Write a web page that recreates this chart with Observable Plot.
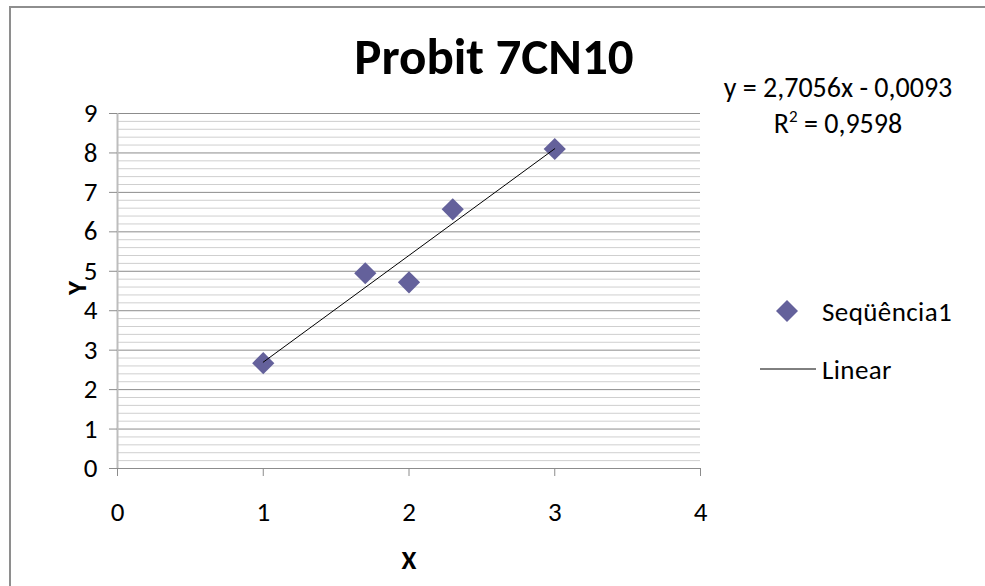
<!DOCTYPE html>
<html>
<head>
<meta charset="utf-8">
<script src="https://cdn.jsdelivr.net/npm/d3@7"></script>
<script src="https://cdn.jsdelivr.net/npm/@observablehq/plot@0.6"></script>
<style>
  html, body { margin: 0; padding: 0; background: #fff; overflow: hidden; }
  #chart { position: relative; width: 985px; height: 586px; overflow: hidden; font-family: Carlito, Lato, "Open Sans", sans-serif; color: #000; }
  #frame { position: absolute; left: 0; top: 0; width: 985px; height: 586px; }
  #plot { position: absolute; left: 0; top: 0; }
  .title { position: absolute; left: 494px; top: 56px; transform: translate(-50%, -50%); font-size: 51px; font-weight: bold; white-space: nowrap; }
  .eq { position: absolute; font-size: 28px; white-space: nowrap; transform: translate(-50%, -50%); }
  .eq sup { font-size: 17px; vertical-align: 11px; line-height: 0; }
  .legend { position: absolute; left: 758px; top: 294px; font-size: 27px; }
  .legend .row { display: flex; align-items: center; height: 34px; }
  .legend .row + .row { margin-top: 24px; }
  .legend svg { width: 58px; height: 34px; margin-right: 6px; }
  .legend span { letter-spacing: 0.4px; }
</style>
</head>
<body>
<div id="chart">
  <svg id="frame" viewBox="0 0 985 586"><path d="M10,586 V7 H985" fill="none" stroke="#8e8e8e" stroke-width="2"/></svg>
  <div id="plot"></div>
  <div class="title">Probit 7CN10</div>
  <div class="eq" id="eq1" style="left:838px; top:87px;"></div>
  <div class="eq" id="eq2" style="left:838px; top:123px;"></div>
  <div class="legend">
    <div class="row"><svg viewBox="0 0 58 34"><path d="M29,6 L40,17 L29,28 L18,17 Z" fill="#64619b"/></svg><span>Seqüência1</span></div>
    <div class="row"><svg viewBox="0 0 58 34"><line x1="2" x2="58" y1="17" y2="17" stroke="#000" stroke-width="1"/></svg><span>Linear</span></div>
  </div>
</div>
<script>
// Observed probit values
const xValues = [1, 1.7, 2, 2.3, 3];
const yValues = [2.67, 4.95, 4.72, 6.57, 8.10];

// Linear trendline parameters (as shown on the chart)
const slope = 2.7056;
const intercept = -0.0093;
const rSquared = 0.9598;

// Axis ticks
const xTicks = [0, 1, 2, 3, 4];
const yTicks = [0, 1, 2, 3, 4, 5, 6, 7, 8, 9];
const yMinorTicks = d3.range(0, 45).map(i => i / 5).filter(v => v % 1 !== 0);

const points = xValues.map((x, i) => ({x, y: yValues[i]}));
const xExtent = d3.extent(xValues);
const trend = xExtent.map(x => ({x, y: slope * x + intercept}));

const fmt = v => String(v).replace(".", ",");
document.getElementById("eq1").textContent =
  `y = ${fmt(slope.toFixed(4))}x ${intercept < 0 ? "-" : "+"} ${fmt(Math.abs(intercept).toFixed(4))}`;
document.getElementById("eq2").innerHTML = `R<sup>2</sup> = ${fmt(rSquared.toFixed(4))}`;

const chart = Plot.plot({
  width: 985,
  height: 586,
  marginLeft: 117,
  marginRight: 285,
  marginTop: 113,
  marginBottom: 118,
  style: {fontFamily: "Carlito, Lato, 'Open Sans', sans-serif", fontSize: "27px", color: "#000", background: "transparent"},
  x: {domain: [0, 4]},
  y: {domain: [0, 9]},
  marks: [
    Plot.ruleY(yMinorTicks, {stroke: "#cfcfcf", strokeWidth: 1}),
    Plot.ruleY(yTicks, {stroke: "#8c8c8c", strokeWidth: 1}),
    Plot.ruleX([0], {y1: 0, y2: 9, stroke: "#bdbdbd", strokeWidth: 2}),
    Plot.axisY({ticks: yTicks, tickSize: 8, tickPadding: 12, stroke: "#8c8c8c", fontSize: 27, label: null, tickFormat: d => d}),
    Plot.axisX({ticks: xTicks, tickSize: 8, tickPadding: 25, stroke: "#8c8c8c", fontSize: 27, label: null, tickFormat: d => d}),
    Plot.text(["Y"], {frameAnchor: "left", dx: -40, dy: 4, rotate: -90, fontWeight: "bold", fontSize: 27}),
    Plot.text(["X"], {frameAnchor: "bottom", dy: 100, fontWeight: "bold", fontSize: 27}),
    Plot.dot(points, {x: "x", y: "y", symbol: "diamond2", r: 10, fill: "#64619b", stroke: "none"}),
    Plot.line(trend, {x: "x", y: "y", stroke: "#000", strokeWidth: 1})
  ]
});
document.getElementById("plot").appendChild(chart);
</script>
</body>
</html>
